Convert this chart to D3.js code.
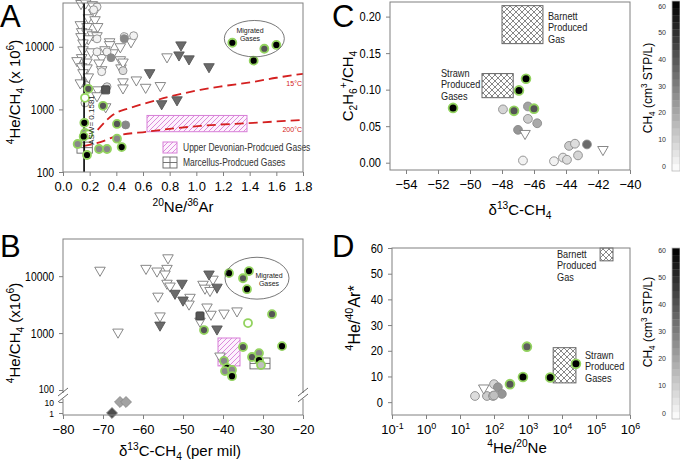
<!DOCTYPE html>
<html><head><meta charset="utf-8">
<script src="https://cdn.jsdelivr.net/npm/d3@7"></script>
<style>body{margin:0;background:#fff}svg{display:block}</style>
</head><body><svg id="c" width="680" height="464"></svg>
<script>
// ---------------- DATA ----------------
// Panel A: 4He/CH4 vs 20Ne/36Ar
const A_xTicks = [0,0.2,0.4,0.6,0.8,1.0,1.2,1.4,1.6,1.8];
const A_yTicks = [100,1000,10000];
const A_triOpen = [[0.135,49000],[0.17,50000],[0.22,47000],[0.23,35000],[0.19,29000],[0.24,27000],[0.13,22500],[0.18,21000],[0.26,21000],[0.14,17400],[0.18,16700],[0.22,15500],[0.135,14500],[0.19,13400],[0.15,11500],[0.255,15000],[0.15,8950],[0.21,8300],[0.14,6700],[0.105,6000],[0.18,5700],[0.14,4800],[0.18,4600],[0.15,3850],[0.19,3300],[0.13,2650],[0.26,2050],[0.255,1650],[0.29,6700],[0.27,5500],[0.29,4300],[0.35,12000],[0.35,10800],[0.315,8950],[0.375,8000],[0.43,10000],[0.43,6200],[0.435,4600],[0.51,12000],[0.45,5700],[0.45,2750],[0.45,2200],[0.55,2950],[0.62,2250],[0.73,2400],[0.78,6900],[0.32,1100]];
const A_triDark = [[0.885,10700],[0.87,7400],[0.945,6400],[1.095,4800],[0.65,3850],[0.74,1230],[0.855,1420]];
const A_sqDark = [[0.32,2050]];
const A_circ = [[0.255,43500,3],[0.23,39000,3],[0.255,13400,3],[0.255,8300,3],[0.29,4000,3],[0.33,8300,3],[0.46,14500,5],[0.53,15000,3],[0.45,4150,8],[0.33,2300,8],[0.165,1270,3],[0.46,13400,28],[0.36,6700,28],[0.47,565,28]];
const A_green = [[0.19,2130,40],[0.165,1530,0],[0.30,1140,40],[0.16,610,60],[0.165,420,28],[0.19,400,0],[0.155,370,60],[0.11,280,28],[0.18,187,60],[0.27,233,28],[0.33,233,28],[0.405,585,40],[0.405,340,28],[0.44,250,60],[1.27,11600,60],[1.51,9300,40],[1.43,6000,60],[1.6,10700,60]];
const A_migrated = [1.21,1.66,6900,26300];
const A_devonian = [0.63,1.38,440,800];
const A_marcellus = [[0.105,0.22,200,300],[0.14,0.2,2300,3460]];
const A_asw = 0.1581;
const A_curve15 = [[0.26,470],[0.33,680],[0.375,820],[0.5,1050],[0.63,1270],[0.8,1600],[1.03,2050],[1.2,2350],[1.43,2760],[1.6,3200],[1.8,3700]];
const A_curve200 = [[0.15,260],[0.28,300],[0.4,375],[0.63,440],[1.03,545],[1.43,610],[1.8,680]];

// Panel B: 4He/CH4 vs d13C-CH4
const B_xTicks = [-80,-70,-60,-50,-40,-30,-20];
const B_yTicksUpper = [100,1000,10000];
const B_yTicksLower = [1,10];
const B_triOpen = [[-70.75,12700],[-59.25,13700],[-56.5,12300],[-53.75,21000],[-54,13700],[-54.5,10900],[-54,7500],[-53.25,6700],[-56.25,4450],[-48.25,4250],[-48.5,3230],[-45,7200],[-44.5,6150],[-43.25,5600],[-42.5,8850],[-44,2870],[-43,2140],[-39.75,2240],[-36.5,2450],[-55.75,2000],[-66.25,1040],[-45.75,1620],[-40.75,395]];
const B_triDark = [[-43.5,10900],[-50.25,7500],[-52,5000],[-50,3800],[-41.5,6400],[-55.75,1380],[-41.5,1180]];
const B_sqDark = [[-45.75,2000]];
const B_green = [[-38.5,11300,60],[-33.5,12300,60],[-35,9200,40],[-34,5900,60],[-44.75,1130,40],[-33.75,1500,0],[-27.75,2150,40],[-25.25,590,60],[-35,570,40],[-32.75,380,40],[-31,445,28],[-31,335,60],[-39.75,325,28],[-39,245,60],[-39.5,215,28],[-37.75,225,28],[-37.75,175,60],[-30.5,275,15]];
const B_diamond = [[-65.75,10,22],[-64.25,10,22],[-67.75,1,42]];
const B_migrated = [-39.5,-23.5,3950,21500];
const B_devonian = [-41.25,-35.75,265,820];
const B_marcellus = [[-33.25,-28.25,235,365]];

// Panel C: C2H6+/CH4 vs d13C-CH4
const C_xTicks = [-54,-52,-50,-48,-46,-44,-42,-40];
const C_yTicks = [0,0.05,0.10,0.15,0.20];
const C_green = [[-51.06,0.075,60],[-47.25,0.071,40],[-46.94,0.099,60],[-46.5,0.115,60],[-46.0,0.074,40]];
const C_circ = [[-47.94,0.073,10],[-46.38,0.077,22],[-46.38,0.060,12],[-45.8,0.054,20],[-47.0,0.045,25],[-46.69,0.003,3],[-44.75,0.002,3],[-44.19,0.007,6],[-43.94,0.004,8],[-43.81,0.023,12],[-43.44,0.026,8],[-43.25,0.010,10],[-42.69,0.025,35]];
const C_tri = [[-46.56,0.040],[-41.69,0.018]];
const C_barnett = [-48.0,-45.44,0.163,0.215];
const C_strawn = [-49.25,-47.3,0.089,0.122];

// Panel D: 4He/40Ar* vs 4He/20Ne
const D_xTicks = [-1,0,1,2,3,4,5,6];
const D_yTicks = [0,10,20,30,40,50,60];
const D_green = [[295,7.0,40],[710,9.8,60],[930,21.6,38],[4500,9.6,60],[25700,14.9,60]];
const D_circ = [[27.6,2.4,8],[62,2.4,12],[93,2.4,10],[100,7.0,10],[130,5.8,25],[170,3.2,25],[100,2.6,15]];
const D_tri = [[50,5.5]];
const D_barnett = [132000,316000,55,60];
const D_strawn = [5500,25700,7.5,21.2];

// Colour bar (CH4, cm3 STP/L)
const CB_ticks = [0,10,20,30,40,50,60];

// ---------------- DRAWING ----------------
const FONT = '"Liberation Sans", Arial, Helvetica, sans-serif';
const svg = d3.select("#c").attr("font-family", FONT);
const GREEN = "#93d35f";
const gray = d3.scaleLinear([0,60],["#ffffff","#000000"]);

const defs = svg.append("defs");
const ph = defs.append("pattern").attr("id","pinkHatch").attr("patternUnits","userSpaceOnUse").attr("width",5).attr("height",5);
ph.append("rect").attr("width",5).attr("height",5).attr("fill","#fdf2fd");
ph.append("path").attr("d","M0,5L5,0M-1,1L1,-1M4,6L6,4").attr("stroke","#d77fd7").attr("stroke-width",0.9);
const xh = defs.append("pattern").attr("id","xHatch").attr("patternUnits","userSpaceOnUse").attr("width",6).attr("height",6);
xh.append("rect").attr("width",6).attr("height",6).attr("fill","#fff");
xh.append("path").attr("d","M0,0L6,6M6,0L0,6").attr("stroke","#555").attr("stroke-width",0.7);

function squish(sel,k){ sel.each(function(){ const t=d3.select(this); const x=+t.attr("x")||0; t.attr("transform",`translate(${x*(1-k)},0) scale(${k},1)`); }); }
function styleAxis(g, fs, k){
  g.select(".domain").remove();
  g.selectAll(".tick line").attr("stroke","#808080");
  g.selectAll(".tick text").attr("font-size",fs).attr("fill","#000").attr("font-family",FONT);
  if(k) squish(g.selectAll(".tick text"),k);
}
function rich(parent, x, y, parts, fs, opts={}){
  const t = parent.append("text").attr("x",x).attr("y",y).attr("font-size",fs)
    .attr("text-anchor",opts.anchor||"middle").attr("fill",opts.fill||"#000");
  if(opts.rotate) t.attr("transform",`rotate(-90,${x},${y})`);
  let shift=0;
  parts.forEach(([s,type])=>{
    const target = type==="sup"? -0.42*fs : type==="sub"? 0.28*fs : 0;
    const ts = t.append("tspan").text(s).attr("dy", target-shift);
    if(type) ts.attr("font-size", fs*0.68);
    shift = target;
  });
  return t;
}
function note(g,x,y,linesArr,fs,lh,opts={}){
  const t=g.append("text").attr("x",x).attr("y",y).attr("font-size",fs).attr("fill","#222").attr("text-anchor",opts.anchor||"start");
  linesArr.forEach((s,i)=>t.append("tspan").attr("x",x).attr("dy",i?lh:0).text(s));
  if(opts.k) squish(t,opts.k);
  return t;
}
function frame(g,x0,y0,x1,y1){
  g.append("rect").attr("x",x0).attr("y",y0).attr("width",x1-x0).attr("height",y1-y0)
   .attr("fill","none").attr("stroke","#808080").attr("stroke-width",1);
}
const triPath = d3.symbol(d3.symbolTriangle, 48)();
function triangles(g,data,x,y,fill,stroke){
  g.selectAll(null).data(data).join("path").attr("d",triPath)
   .attr("transform",d=>`translate(${x(d[0])},${y(d[1])}) rotate(180)`)
   .attr("fill",fill).attr("stroke",stroke).attr("stroke-width",0.9);
}
function circles(g,data,x,y,r,green){
  g.selectAll(null).data(data).join("circle").attr("cx",d=>x(d[0])).attr("cy",d=>y(d[1])).attr("r",r)
   .attr("fill",d=>gray(d[2])).attr("stroke",green?GREEN:"#8a8a8a").attr("stroke-width",green?1.8:0.9);
}
function squares(g,data,x,y){
  g.selectAll(null).data(data).join("rect").attr("x",d=>x(d[0])-4).attr("y",d=>y(d[1])-4).attr("width",8).attr("height",8)
   .attr("fill","#555").attr("stroke","#444").attr("rx",1);
}
function gridBox(g,x0,x1,y0,y1){
  g.append("rect").attr("x",x0).attr("y",y0).attr("width",x1-x0).attr("height",y1-y0).attr("fill","none").attr("stroke","#666").attr("stroke-width",0.9);
  g.append("path").attr("d",`M${(x0+x1)/2},${y0}V${y1}M${x0},${(y0+y1)/2}H${x1}`).attr("stroke","#666").attr("stroke-width",0.9);
}
function hatchRect(g,x,y,b,fill,stroke){
  g.append("rect").attr("x",x(b[0])).attr("y",y(b[3])).attr("width",x(b[1])-x(b[0])).attr("height",y(b[2])-y(b[3]))
   .attr("fill",fill).attr("stroke",stroke).attr("stroke-width",1);
}
function ellipse(g,x,y,b){
  const x0=x(b[0]),x1=x(b[1]),y0=y(b[3]),y1=y(b[2]);
  g.append("ellipse").attr("cx",(x0+x1)/2).attr("cy",(y0+y1)/2).attr("rx",(x1-x0)/2).attr("ry",(y1-y0)/2)
   .attr("fill","none").attr("stroke","#555").attr("stroke-width",0.8);
}
function panelLetter(t,x,y){ svg.append("text").attr("x",x).attr("y",y).attr("font-size",31).attr("fill","#000").text(t); }

// ===== Panel A =====
{
  const g = svg.append("g");
  const x = d3.scaleLinear([0,1.8],[63,303]);
  const y = d3.scaleLog([100,50000],[172,3]);
  hatchRect(g,x,y,A_devonian,"url(#pinkHatch)","#d77fd7");
  const ln = d3.line().x(d=>x(d[0])).y(d=>y(d[1])).curve(d3.curveMonotoneX);
  g.append("path").attr("d",ln(A_curve15)).attr("fill","none").attr("stroke","#d42020").attr("stroke-width",1.8).attr("stroke-dasharray","9,5");
  g.append("path").attr("d",ln(A_curve200)).attr("fill","none").attr("stroke","#d42020").attr("stroke-width",1.8).attr("stroke-dasharray","9,5");
  A_marcellus.forEach(b=>gridBox(g,x(b[0]),x(b[1]),y(b[3]),y(b[2])));
  triangles(g,A_triOpen,x,y,"#fff","#7a7a7a");
  circles(g,A_circ,x,y,4,false);
  triangles(g,A_triDark,x,y,"#6a6a6a","#555");
  squares(g,A_sqDark,x,y);
  g.append("line").attr("x1",x(A_asw)).attr("x2",x(A_asw)).attr("y1",3).attr("y2",172).attr("stroke","#000").attr("stroke-width",1.6);
  circles(g,A_green,x,y,4,true);
  ellipse(g,x,y,A_migrated);
  note(g,250,33,["Migrated","Gases"],7,8.2,{anchor:"middle"});
  g.append("text").attr("x",302).attr("y",86).attr("font-size",7).attr("text-anchor","end").attr("fill","#d42020").text("15°C");
  g.append("text").attr("x",302).attr("y",132).attr("font-size",7).attr("text-anchor","end").attr("fill","#d42020").text("200°C");
  g.append("text").attr("transform",`translate(${x(A_asw)+10},120) rotate(-90)`).attr("font-size",8).attr("text-anchor","middle").attr("fill","#222").text("ASW= 0.1581");
  g.append("rect").attr("x",163).attr("y",142).attr("width",14).attr("height",11).attr("fill","url(#pinkHatch)").attr("stroke","#d77fd7");
  gridBox(g,163,177,157,168);
  const lt = g.append("text").attr("x",183).attr("y",151).attr("font-size",10).attr("fill","#333").text("Upper Devonian-Prodcued Gases");
  const lt2 = g.append("text").attr("x",183).attr("y",166).attr("font-size",10).attr("fill","#333").text("Marcellus-Prodcued Gases");
  squish(lt,0.85); squish(lt2,0.85);
  frame(g,63,3,303,172);
  styleAxis(g.append("g").attr("transform","translate(0,172)").call(d3.axisBottom(x).tickValues(A_xTicks).tickSize(4).tickPadding(6).tickFormat(d3.format(".1f"))),13);
  styleAxis(g.append("g").attr("transform","translate(63,0)").call(d3.axisLeft(y).tickValues(A_yTicks).tickSize(4).tickPadding(5).tickFormat(d3.format("d"))),13,0.8);
  rich(g,20,92,[["4","sup"],["He/CH",""],["4","sub"],[" (x 10",""],["6","sup"],[")",""]],15,{rotate:true});
  rich(g,183,212,[["20","sup"],["Ne/",""],["36","sup"],["Ar",""]],15);
  panelLetter("A",0,27);
}

// ===== Panel B =====
{
  const g = svg.append("g");
  const x = d3.scaleLinear([-80,-20],[63,303]);
  const yU = d3.scaleLog([100,45000],[390,239]);
  const yL = d3.scaleLog([1,10],[413,402]);
  const y = v => v>=100 ? yU(v) : yL(v);
  hatchRect(g,x,y,B_devonian,"url(#pinkHatch)","#d77fd7");
  B_marcellus.forEach(b=>gridBox(g,x(b[0]),x(b[1]),y(b[3]),y(b[2])));
  triangles(g,B_triOpen,x,y,"#fff","#7a7a7a");
  triangles(g,B_triDark,x,y,"#6a6a6a","#555");
  squares(g,B_sqDark,x,y);
  circles(g,B_green,x,y,4,true);
  g.selectAll(null).data(B_diamond).join("path").attr("d",d3.symbol(d3.symbolSquare,60)())
   .attr("transform",d=>`translate(${x(d[0])},${y(d[1])}) rotate(45)`).attr("fill",d=>gray(d[2])).attr("stroke","#888").attr("stroke-width",0.8);
  ellipse(g,x,y,B_migrated);
  note(g,269,278,["Migrated","Gases"],7,8.2,{anchor:"middle"});
  frame(g,63,239,303,415);
  [63,303].forEach(xx=>{
    g.append("rect").attr("x",xx-2).attr("y",393).attr("width",4).attr("height",6).attr("fill","#fff");
    g.append("path").attr("d",`M${xx-5},${396}L${xx+5},${388}M${xx-5},${402}L${xx+5},${394}`).attr("stroke","#555").attr("stroke-width",0.9);
  });
  styleAxis(g.append("g").attr("transform","translate(0,415)").call(d3.axisBottom(x).tickValues(B_xTicks).tickSize(4).tickPadding(6)),13);
  const ayU = g.append("g").attr("transform","translate(63,0)").call(d3.axisLeft(yU).tickValues(B_yTicksUpper).tickSize(4).tickPadding(5).tickFormat(d3.format("d")));
  styleAxis(ayU,13,0.8);
  ayU.selectAll(".tick").filter(d=>d===100).select("text").attr("font-size",11.5).attr("dy","0.2em");
  styleAxis(g.append("g").attr("transform","translate(63,0)").call(d3.axisLeft(yL).tickValues(B_yTicksLower).tickSize(4).tickPadding(5).tickFormat(d3.format("d"))),9.5,0.9);
  rich(g,20,333,[["4","sup"],["He/CH",""],["4","sub"],[" (x10",""],["6","sup"],[")",""]],15,{rotate:true});
  rich(g,180,456,[["δ",""],["13","sup"],["C-CH",""],["4","sub"],[" (per mil)",""]],15);
  panelLetter("B",0,257);
}

function colorBar(y0,y1,t0,t60,labelY){
  const g = svg.append("g");
  const s = d3.scaleLinear([0,60],[t0,t60]);
  const n=24, h=(y1-y0)/n;
  d3.range(n).forEach(i=>{
    g.append("rect").attr("x",672).attr("y",y1-(i+1)*h).attr("width",8).attr("height",h+0.3).attr("fill",gray((i+0.5)*60/n));
  });
  g.append("rect").attr("x",672).attr("y",y0).attr("width",8).attr("height",y1-y0).attr("fill","none").attr("stroke","#bbb").attr("stroke-width",0.8);
  CB_ticks.forEach(v=>g.append("text").attr("x",666).attr("y",s(v)+2.5).attr("font-size",7).attr("text-anchor","end").attr("fill","#333").text(v));
  rich(g,652,labelY,[["CH",""],["4","sub"],[" (cm",""],["3","sup"],[" STP/L)",""]],12,{rotate:true});
}

// ===== Panel C =====
{
  const g = svg.append("g");
  const x = d3.scaleLinear([-55,-40],[390,630]);
  const y = d3.scaleLinear([-0.01,0.22],[170,2]);
  hatchRect(g,x,y,C_barnett,"url(#xHatch)","#666");
  hatchRect(g,x,y,C_strawn,"url(#xHatch)","#666");
  circles(g,C_circ,x,y,4.4,false);
  triangles(g,C_tri,x,y,"#fff","#7a7a7a");
  circles(g,C_green,x,y,4.4,true);
  note(g,548,20,["Barnett","Produced","Gas"],10,11.5,{k:0.92});
  note(g,441,77,["Strawn","Produced","Gases"],10,11.5,{k:0.92});
  frame(g,390,2,630,170);
  styleAxis(g.append("g").attr("transform","translate(0,170)").call(d3.axisBottom(x).tickValues(C_xTicks).tickSize(4).tickPadding(6)),13);
  styleAxis(g.append("g").attr("transform","translate(390,0)").call(d3.axisLeft(y).tickValues(C_yTicks).tickSize(4).tickPadding(5).tickFormat(d3.format(".2f"))),13,0.85);
  rich(g,353,86,[["C",""],["2","sub"],["H",""],["6","sub"],["+","sup"],["/CH",""],["4","sub"]],15,{rotate:true});
  rich(g,520,215,[["δ",""],["13","sup"],["C-CH",""],["4","sub"]],15);
  panelLetter("C",332,27);
  colorBar(1,171,166,6,88);
}

// ===== Panel D =====
{
  const g = svg.append("g");
  const x = d3.scaleLog([0.1,1e6],[392,630]);
  const y = d3.scaleLinear([-5,60],[415,248]);
  hatchRect(g,x,y,D_barnett,"url(#xHatch)","#666");
  hatchRect(g,x,y,D_strawn,"url(#xHatch)","#666");
  circles(g,D_circ,x,y,4.4,false);
  triangles(g,D_tri,x,y,"#fff","#7a7a7a");
  circles(g,D_green,x,y,4.4,true);
  note(g,557,258,["Barnett","Produced","Gas"],10,11.5,{k:0.92});
  note(g,585,359,["Strawn","Produced","Gases"],10,11.5,{k:0.92});
  frame(g,392,248,630,415);
  const ax = g.append("g").attr("transform","translate(0,415)").call(d3.axisBottom(x).tickValues(D_xTicks.map(e=>Math.pow(10,e))).tickSize(4).tickPadding(6).tickFormat(()=>""));
  styleAxis(ax,13);
  ax.selectAll(".tick").each(function(d){
    const e = Math.round(Math.log10(d));
    const t = d3.select(this).select("text").text(null);
    t.append("tspan").text("10");
    t.append("tspan").text(e).attr("dy",-5).attr("font-size",9);
  });
  styleAxis(g.append("g").attr("transform","translate(392,0)").call(d3.axisLeft(y).tickValues(D_yTicks).tickSize(4).tickPadding(5)),13,0.85);
  rich(g,360,318,[["4","sup"],["He/",""],["40","sup"],["Ar*",""]],16,{rotate:true});
  rich(g,517,453,[["4","sup"],["He/",""],["20","sup"],["Ne",""]],15);
  panelLetter("D",332,257);
  colorBar(248,419,413,250,322);
}
</script>
</body></html>
